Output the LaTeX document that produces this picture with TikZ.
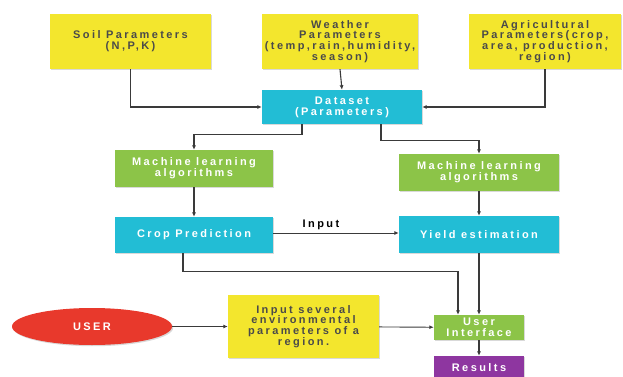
\documentclass[tikz,border=0pt]{standalone}
\usepackage{fontspec}
\setmainfont{Liberation Sans}
\newfontfamily\boxfont[LetterSpace=22]{Liberation Sans}
\usetikzlibrary{arrows.meta, shapes.geometric, shadows}
\definecolor{fcyellow}{HTML}{F3E62D}
\definecolor{fccyan}{HTML}{22BDD5}
\definecolor{fcgreen}{HTML}{8CC448}
\definecolor{fcred}{HTML}{E8392C}
\definecolor{fcpurple}{HTML}{8E36A0}
\definecolor{fctext}{HTML}{4A4A4A}
\definecolor{fcline}{HTML}{3A3A3A}

\begin{document}
\begin{tikzpicture}[x=1pt, y=-1pt,
  box/.style={align=center, inner sep=0pt, font=\boxfont\fontsize{11}{10.8}\selectfont\bfseries,
    drop shadow={shadow xshift=1.2pt, shadow yshift=-1.2pt, opacity=0.3, fill=gray}},
  ybox/.style={box, fill=fcyellow, text=fctext},
  cbox/.style={box, fill=fccyan, text=white},
  gbox/.style={box, fill=fcgreen, text=white},
  flow/.style={-{Latex[length=4.5pt,width=4pt]}, line width=1.1pt, draw=fcline}]
\clip (0,0) rectangle (623,377);

% Input parameter groups
\node[ybox, minimum width=161pt, minimum height=55pt] (soil) at (130.5,41.5) {Soil Parameters\\(N,P,K)};
\node[ybox, minimum width=156pt, minimum height=55pt] (weather) at (340,41.5) {Weather\\Parameters\\(temp,rain,humidity,\\season)};
\node[ybox, minimum width=152pt, minimum height=55pt] (agri) at (545,41.5) {Agricultural\\Parameters(crop,\\area, production,\\region)};

% Dataset
\node[cbox, minimum width=160pt, minimum height=34pt] (dataset) at (342,107) {Dataset\\(Parameters)};

% Two learning branches
\node[gbox, minimum width=158pt, minimum height=37pt] (mlcrop) at (194,168.5) {Machine learning\\algorithms};
\node[gbox, minimum width=160pt, minimum height=37pt] (mlyield) at (479,172.5) {Machine learning\\algorithms};
\node[cbox, minimum width=158pt, minimum height=36pt] (crop) at (194,235) {Crop Prediction};
\node[cbox, minimum width=160pt, minimum height=37pt] (yield) at (479,234.5) {Yield estimation};

% User side
\node[ellipse, box, fill=fcred, text=white, minimum width=160pt, minimum height=37pt] (user) at (92,326.5) {USER};
\node[ybox, minimum width=151pt, minimum height=63pt] (envinput) at (303.5,326.5) {Input several\\environmental\\parameters of a\\region.};
\node[gbox, minimum width=90pt, minimum height=25pt] (ui) at (479,327.5) {User\\Interface};
\node[box, fill=fcpurple, text=white, minimum width=90pt, minimum height=24pt] (results) at (479,368) {Results};

% Connectors
\draw[flow] (soil.south) |- (dataset.west);
\draw[flow] (weather.south) -- (dataset.north);
\draw[flow] (agri.south) |- (dataset.east);
\draw[flow] ([xshift=-40pt]dataset.south) |- ([yshift=15pt]mlcrop.north) -- (mlcrop.north);
\draw[flow] ([xshift=39pt]dataset.south) |- ([yshift=13pt]mlyield.north) -- (mlyield.north);
\draw[flow] (mlcrop) -- (crop);
\draw[flow] (mlyield) -- (yield);
\draw[flow, line width=0.9pt] (crop.east |- 0,233) -- node[pos=0.38, above=-1pt, font=\boxfont\fontsize{11}{11}\selectfont\bfseries] (inlabel) {Input} (yield.west |- 0,233);
\draw[flow] ([xshift=-11pt]crop.south) |- ([yshift=43pt]ui.north -| 458,0) -- (ui.north -| 458,0);
\draw[flow] (yield.south) -- (ui.north);
\draw[flow, line width=0.9pt] (user) -- (envinput);
\draw[flow, line width=0.9pt] (envinput) -- (ui);
\draw[flow] (ui) -- (results);
\end{tikzpicture}
\end{document}
